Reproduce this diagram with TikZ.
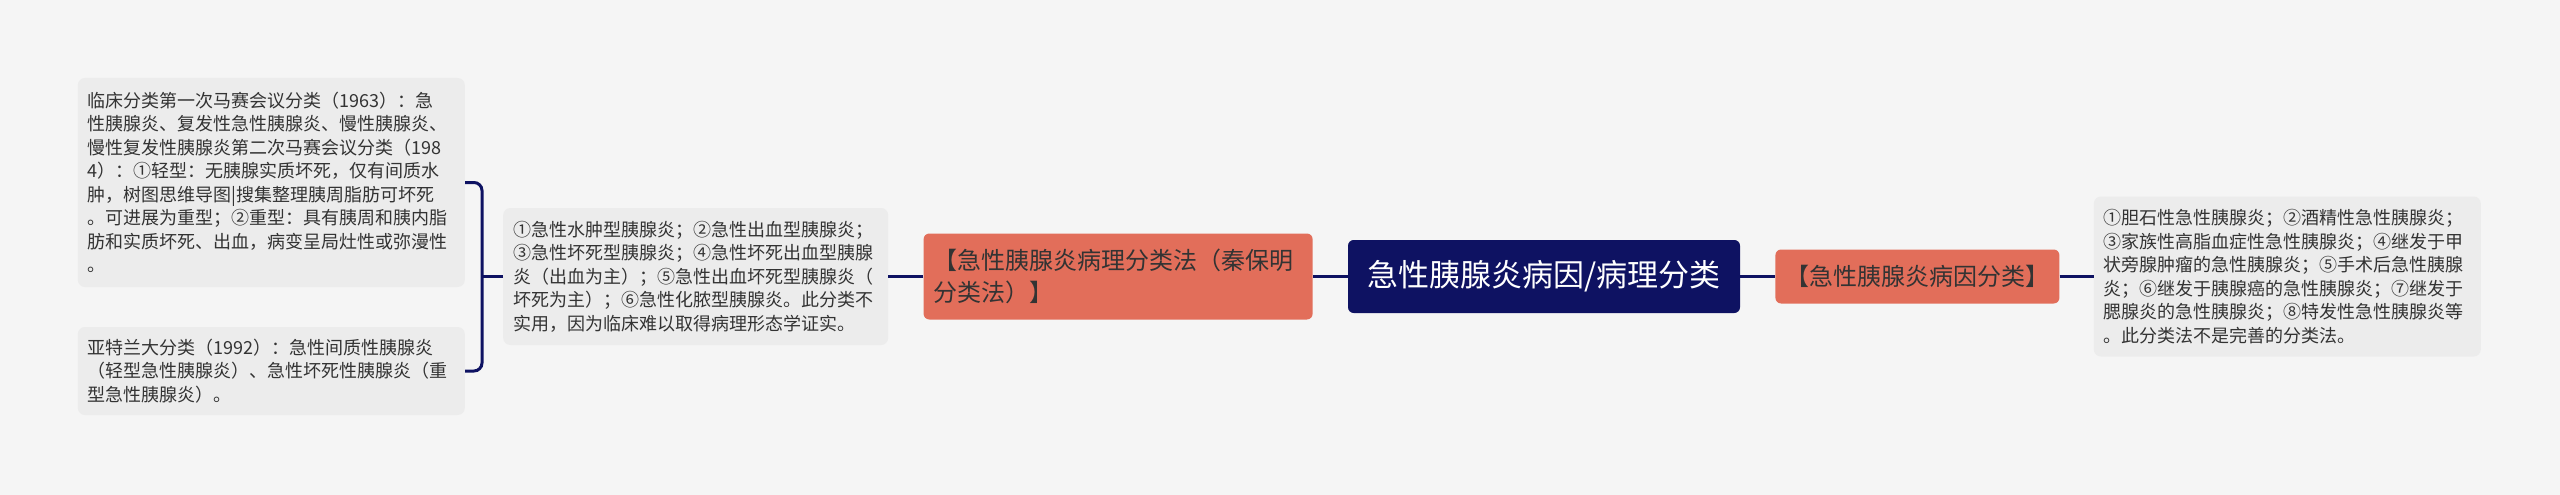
\documentclass[tikz,border=0pt]{standalone}
\usepackage{fontspec}
\setmainfont{Noto Sans CJK SC}
\usetikzlibrary{positioning,calc}
\definecolor{mmNavy}{RGB}{14,18,98}
\definecolor{mmSalmon}{RGB}{226,110,90}
\definecolor{mmGray}{RGB}{51,51,51}
\definecolor{mmLeaf}{RGB}{236,236,236}
\definecolor{mmBack}{RGB}{245,245,245}
\tikzset{
    base/.style={align=left, inner xsep=10pt, inner ysep=4pt},
    topic/.style={base, align=center, rectangle, rounded corners=2mm, fill=mmNavy,
                  text=white, font=\fontsize{31}{36}\selectfont,
                  minimum width=392pt, minimum height=73pt},
    branch/.style={base, rectangle, rounded corners=2mm, fill=mmSalmon, text=mmGray,
                   font=\fontsize{24}{32}\selectfont},
    leaf/.style={base, rectangle, rounded corners=2.5mm, fill=mmLeaf, text=mmGray,
                 font=\fontsize{18}{23.5}\selectfont},
    link/.style={draw=mmNavy, line width=3pt}
}

\begin{document}
\begin{tikzpicture}[x=1pt, y=-1pt]
  % canvas
  \fill[mmBack] (0,0) rectangle (2560,495);

  % Center topic
  \node[topic] (ctr) at (1544,276.5) {急性胰腺炎病因/病理分类};

  % Right side: cause classification
  \node[branch, align=center, minimum width=284pt, minimum height=54pt,
        right=35pt of ctr] (cause) {【急性胰腺炎病因分类】};
  \node[leaf, text width=367pt, minimum height=160pt, right=34pt of cause] (causeleaf) {
    ①胆石性急性胰腺炎；②酒精性急性胰腺炎；\\
    ③家族性高脂血症性急性胰腺炎；④继发于甲\\
    状旁腺肿瘤的急性胰腺炎；⑤手术后急性胰腺\\
    炎；⑥继发于胰腺癌的急性胰腺炎；⑦继发于\\
    腮腺炎的急性胰腺炎；⑧特发性急性胰腺炎等\\
    。此分类法不是完善的分类法。
  };

  % Left side: pathology classification
  \node[branch, text width=369pt, minimum height=86pt, left=35pt of ctr] (patho) {
    【急性胰腺炎病理分类法（秦保明\\
    分类法）】
  };
  \node[leaf, text width=365pt, minimum height=137pt, left=35pt of patho] (patholeaf) {
    ①急性水肿型胰腺炎；②急性出血型胰腺炎；\\
    ③急性坏死型胰腺炎；④急性坏死出血型胰腺\\
    炎（出血为主）；⑤急性出血坏死型胰腺炎（\\
    坏死为主）；⑥急性化脓型胰腺炎。此分类不\\
    实用，因为临床难以取得病理形态学证实。
  };

  % Clinical classifications
  \node[leaf, text width=367pt, minimum height=209pt, anchor=east] (clin) at (465,182.5) {
    临床分类第一次马赛会议分类（1963）：急\\
    性胰腺炎、复发性急性胰腺炎、慢性胰腺炎、\\
    慢性复发性胰腺炎第二次马赛会议分类（198\\
    4）：①轻型：无胰腺实质坏死，仅有间质水\\
    肿，树图思维导图|搜集整理胰周脂肪可坏死\\
    。可进展为重型；②重型：具有胰周和胰内脂\\
    肪和实质坏死、出血，病变呈局灶性或弥漫性\\
    。
  };
  \node[leaf, text width=367pt, minimum height=88pt, anchor=east] (atl) at (465,371) {
    亚特兰大分类（1992）：急性间质性胰腺炎\\
    （轻型急性胰腺炎）、急性坏死性胰腺炎（重\\
    型急性胰腺炎）。
  };

  % Connectors
  \draw[link] (ctr) -- (cause);
  \draw[link] (cause) -- (causeleaf);
  \draw[link] (ctr) -- (patho);
  \draw[link] (patho) -- (patholeaf);
  \coordinate (brace) at ($(clin.east)+(17,0)$);
  \draw[link, rounded corners=8pt] (clin.east) -- (brace) |- (atl.east);
  \draw[link] (patholeaf.west) -- (patholeaf.west -| brace);
\end{tikzpicture}
\end{document}
